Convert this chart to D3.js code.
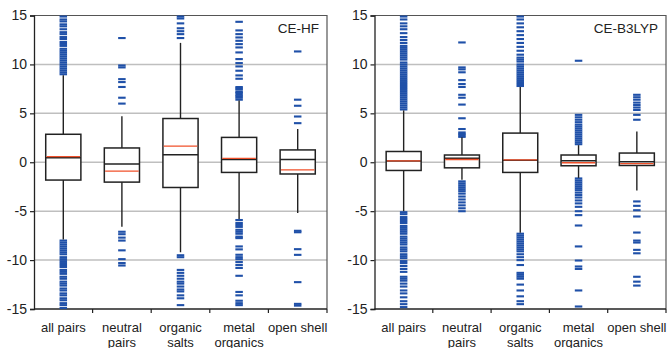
<!DOCTYPE html>
<html>
<head>
<meta charset="utf-8">
<script src="https://cdn.jsdelivr.net/npm/d3@7"></script>
<style>
  body { margin: 0; background: #fff; }
  svg { display: block; font-family: "Liberation Sans", Arial, sans-serif; }
</style>
</head>
<body>
<div id="chart"></div>
<script>
// category labels (one entry per line)
const categories = [["all pairs"], ["neutral", "pairs"], ["organic", "salts"], ["metal", "organics"], ["open shell"]];
const yTicks = [-15, -10, -5, 0, 5, 10, 15];

// CE-HF panel
const hfQ1 = [-1.82, -2.03, -2.58, -1.04, -1.2];
const hfMedian = [0.46, -0.18, 0.77, 0.28, 0.29];
const hfQ3 = [2.86, 1.46, 4.47, 2.54, 1.26];
const hfMean = [0.58, -0.9, 1.64, 0.4, -0.78];
const hfLow = [-7.9, -6.6, -9.2, -5.8, -5.2];
const hfHigh = [8.9, 4.7, 12.2, 6.3, 3.4];
const hfOutliers = [
  [9.0, 9.2, 9.4, 9.6, 9.8, 10.0, 10.2, 10.4, 10.6, 10.8, 11.0, 11.2, 11.4, 11.6, 11.9, 12.1, 12.3, 12.6, 12.8, 13.1, 13.3, 13.6, 13.9, 14.1, 14.4, 14.6, 14.9,
   -8.0, -8.2, -8.4, -8.6, -8.8, -9.0, -9.2, -9.4, -9.7, -9.9, -10.1, -10.3, -10.5, -10.7, -11.0, -11.2, -11.4, -11.7, -11.9, -12.2, -12.4, -12.6, -12.9, -13.1, -13.4, -13.6, -13.9, -14.1, -14.4, -14.6, -14.9],
  [12.7, 9.9, 9.7, 8.5, 8.2, 7.7, 6.6, 6.0, -7.1, -7.35, -7.7, -8.0, -9.0, -9.9, -10.3, -10.55],
  [14.9, 14.7, 14.2, 13.7, 13.4, 13.1, 12.7,
   -9.5, -9.7, -11.0, -11.3, -11.6, -11.9, -12.2, -12.4, -12.7, -13.0, -13.2, -13.6, -13.9, -14.6],
  [14.36, 13.48, 13.1, 12.76, 12.42, 12.08, 11.74, 11.23, 10.55, 10.14, 9.8, 9.36, 8.88, 8.54, 7.69, 7.55, 7.43, 7.2, 7.09, 6.9, 6.75, 6.6, 6.4,
   -5.9, -6.2, -6.4, -6.6, -6.9, -7.1, -7.3, -7.6, -7.75, -8.6, -8.9, -9.45, -9.7, -9.9, -10.2, -10.5, -10.8, -11.6, -13.25, -13.6, -14.15, -14.4, -14.6],
  [11.33, 6.4, 5.78, 4.68, 4.0, -7.0, -7.15, -8.88, -9.46, -12.25, -14.47, -14.65]
];

// CE-B3LYP panel
const b3Q1 = [-0.84, -0.57, -1.04, -0.36, -0.33];
const b3Median = [0.12, 0.42, 0.2, 0.15, 0.05];
const b3Q3 = [1.1, 0.74, 2.98, 0.74, 0.94];
const b3Mean = [0.15, 0.28, 0.24, -0.05, -0.15];
const b3Low = [-5.0, -1.8, -7.2, -1.6, -2.9];
const b3High = [5.3, 2.55, 7.7, 1.75, 3.15];
const b3Outliers = [
  [5.4, 5.6, 5.8, 6.0, 6.2, 6.4, 6.6, 6.8, 7.0, 7.2, 7.4, 7.6, 7.8, 8.0, 8.2, 8.4, 8.6, 8.8, 9.0, 9.2, 9.4, 9.6, 9.8, 10.0, 10.2, 10.5, 10.7, 10.9, 11.1, 11.3, 11.5, 11.7, 11.9, 12.2, 12.5, 12.8, 13.2, 13.6, 13.9, 14.2, 14.6, 14.9,
   -5.1, -5.3, -5.6, -5.8, -6.0, -6.2, -6.5, -6.7, -6.9, -7.1, -7.3, -7.6, -7.8, -8.0, -8.2, -8.4, -8.7, -8.9, -9.1, -9.4, -9.6, -9.8, -10.1, -10.3, -10.6, -10.9, -11.2, -11.7, -11.9, -12.1, -12.4, -12.7, -13.1, -13.4, -13.8, -14.2, -14.5, -14.8],
  [2.6, 2.75, 2.9, 3.05, 3.4, 4.5, 5.9, 6.6, 6.9, 7.7, 8.0, 8.4, 9.2, 9.5, 9.7, 12.25,
   -1.95, -2.15, -2.35, -2.55, -2.75, -2.95, -3.2, -3.5, -3.8, -4.1, -4.4, -4.7, -5.0],
  [7.8, 8.0, 8.2, 8.4, 8.6, 8.8, 9.0, 9.2, 9.4, 9.6, 9.8, 10.0, 10.3, 10.5, 10.7, 11.0, 11.4, 11.8, 12.2, 12.6, 13.0, 13.4, 13.8, 14.2, 14.6, 14.9,
   -7.3, -7.5, -7.7, -7.9, -8.1, -8.3, -8.5, -8.7, -8.9, -9.1, -9.4, -9.7, -10.0, -10.5, -11.3, -11.5, -11.7, -11.9, -12.5, -13.1, -13.7, -14.2, -14.5],
  [1.85, 2.05, 2.25, 2.45, 2.65, 2.85, 3.05, 3.25, 3.45, 3.65, 3.85, 4.1, 4.35, 4.6, 4.85, 10.38,
   -1.65, -1.85, -2.05, -2.25, -2.45, -2.65, -2.85, -3.1, -3.35, -3.6, -3.9, -4.2, -4.55, -5.0, -5.4, -6.46, -8.6, -10.04, -10.65, -10.9, -13.1, -14.74],
  [6.9, 6.65, 6.4, 6.1, 5.85, 5.6, 5.35, 4.85, 4.35,
   -4.0, -4.45, -4.9, -5.54, -7.18, -8.0, -8.2, -8.95, -9.3, -11.7, -12.2, -12.6]
];

const width = 670, height = 348;
const svg = d3.select('#chart').append('svg')
  .attr('width', width)
  .attr('height', height);

function drawPanel(x0, x1, title, q1, med, q3, mean, lo, hi, outliers) {
  const y0 = 15.5, y1 = 309;
  const y = d3.scaleLinear().domain([-15, 15]).range([y1, y0]);
  const x = d3.scaleBand()
    .domain(d3.range(categories.length))
    .range([x0, x1])
    .paddingInner(0.4)
    .paddingOuter(0.2);

  const g = svg.append('g');

  // grid lines
  g.selectAll('.grid')
    .data(yTicks.filter(t => t > -15 && t < 15))
    .enter().append('line')
    .attr('x1', x0).attr('x2', x1)
    .attr('y1', d => y(d)).attr('y2', d => y(d))
    .attr('stroke', '#bfbfbf')
    .attr('stroke-width', 1.5);

  // frame (top/right)
  g.append('path')
    .attr('d', `M${x0},${y0}H${x1}V${y1}`)
    .attr('fill', 'none')
    .attr('stroke', '#555')
    .attr('stroke-width', 1.2);

  // y axis
  const yAxis = g.append('g')
    .attr('transform', `translate(${x0},0)`)
    .call(d3.axisLeft(y).tickValues(yTicks).tickSize(4).tickPadding(3).tickFormat(d => String(d)));
  yAxis.select('.domain').attr('stroke', '#222').attr('stroke-width', 1.3);
  yAxis.selectAll('.tick line').attr('stroke', '#222').attr('stroke-width', 1.2);
  yAxis.selectAll('.tick text')
    .attr('font-size', 14)
    .attr('fill', '#222')
    .style('font-family', '"Liberation Sans", Arial, sans-serif');

  // x axis baseline + boundary ticks
  g.append('line')
    .attr('x1', x0).attr('x2', x1)
    .attr('y1', y1).attr('y2', y1)
    .attr('stroke', '#222').attr('stroke-width', 1.3);
  g.selectAll('.xtick')
    .data(d3.range(1, categories.length + 1))
    .enter().append('line')
    .attr('x1', i => x0 + i * x.step()).attr('x2', i => x0 + i * x.step())
    .attr('y1', y1).attr('y2', y1 + 4)
    .attr('stroke', '#222').attr('stroke-width', 1.2);

  // category labels
  const labels = g.selectAll('.cat')
    .data(categories)
    .enter().append('text')
    .attr('text-anchor', 'middle')
    .attr('font-size', 13)
    .attr('fill', '#222')
    .attr('transform', (d, i) => `translate(${x(i) + x.bandwidth() / 2},332)`);
  labels.selectAll('tspan')
    .data(d => d)
    .enter().append('tspan')
    .attr('x', 0)
    .attr('y', (d, j) => j * 15)
    .text(d => d);

  const boxes = g.selectAll('.box')
    .data(categories.map((c, i) => i))
    .enter().append('g');

  const cx = i => x(i) + x.bandwidth() / 2;

  // outliers
  boxes.each(function(i) {
    d3.select(this).selectAll('rect.out')
      .data(outliers[i].filter(v => v >= -15 && v <= 15))
      .enter().append('rect')
      .attr('x', cx(i) - 3.75)
      .attr('y', v => y(v) - 1)
      .attr('width', 7.5)
      .attr('height', 2.1)
      .attr('fill', '#1f50a8');
  });

  // whiskers
  boxes.append('line')
    .attr('x1', cx).attr('x2', cx)
    .attr('y1', i => y(hi[i])).attr('y2', i => y(q3[i]))
    .attr('stroke', '#222').attr('stroke-width', 1.4);
  boxes.append('line')
    .attr('x1', cx).attr('x2', cx)
    .attr('y1', i => y(q1[i])).attr('y2', i => y(lo[i]))
    .attr('stroke', '#222').attr('stroke-width', 1.4);

  // box
  boxes.append('rect')
    .attr('x', i => x(i))
    .attr('y', i => y(q3[i]))
    .attr('width', x.bandwidth())
    .attr('height', i => y(q1[i]) - y(q3[i]))
    .attr('fill', '#fff')
    .attr('stroke', '#222')
    .attr('stroke-width', 1.5);

  // median (black) and mean (red)
  boxes.append('line')
    .attr('x1', i => x(i)).attr('x2', i => x(i) + x.bandwidth())
    .attr('y1', i => y(med[i])).attr('y2', i => y(med[i]))
    .attr('stroke', '#222').attr('stroke-width', 1.5);
  boxes.append('line')
    .attr('x1', i => x(i) + 0.8).attr('x2', i => x(i) + x.bandwidth() - 0.8)
    .attr('y1', i => y(mean[i])).attr('y2', i => y(mean[i]))
    .attr('stroke', '#f0502a').attr('stroke-width', 1.3);

  // panel title
  g.append('text')
    .attr('x', x1 - 8)
    .attr('y', 33)
    .attr('text-anchor', 'end')
    .attr('font-size', 13.5)
    .attr('fill', '#222')
    .text(title);
}

drawPanel(34, 327, 'CE-HF', hfQ1, hfMedian, hfQ3, hfMean, hfLow, hfHigh, hfOutliers);
drawPanel(374.5, 666, 'CE-B3LYP', b3Q1, b3Median, b3Q3, b3Mean, b3Low, b3High, b3Outliers);
</script>
</body>
</html>
